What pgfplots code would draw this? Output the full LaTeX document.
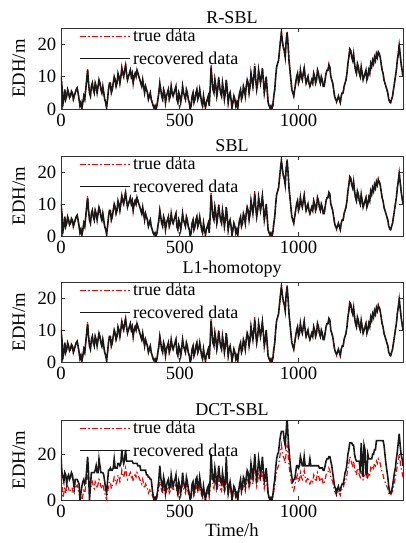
\documentclass[border=0pt]{standalone}
\usepackage{fontspec}
\setmainfont{Liberation Serif}
\usepackage{pgfplots}
\usepackage{pgfplotstable}
\pgfplotsset{compat=1.18}

% t = time (h), tr = true data, rc = recovered (R-SBL / SBL / L1), dc = recovered (DCT-SBL)
\pgfplotstableread{
t tr rc dc
0 11 10 19
4 7 7 12
8 1 1.5 10
12 3 3 8
16 6 6 12
20 3 3 11
24 4 4 7
28 6 6 10
32 5 5 11
36 3.5 3.5 9
40 4 4 10
44 5.5 5.5 12
48 5 5 11
52 3 3 8
56 4 4 5
60 5 5 9
64 6 6 9
68 6.5 6.5 9
72 5 5 8
76 3 3 7
80 1 1 0
84 2 2 3
88 0 0.4 6
92 2 2 8
96 4 4 9
100 3 3 7
104 6 6 8
108 9 9 13
112 12.5 12 19
116 8 8 12
120 5 5 0
124 4 4 6
128 7 7 12
132 8 8 12
136 6 6 12
140 5 5 12
144 8 8 13
148 7 7 15
152 5 5 12
156 7 7 12
160 9 9 18
164 8 8 15
168 6 6 12
172 5 5 12
176 7 7 12
180 5 5 11
184 3 3 8
188 2 2 5
192 0 0.5 3
196 3 3 8
200 6 6 13
204 8 8 13
208 8 8 14
212 5 5 13
216 6 6 13
220 8 8 14
224 10 10 18
228 9 9 14
232 7 7 14
236 8 8 14
240 11 11 16
244 10 10 16
248 8 8 15
252 10 10 16
256 13 12.5 22
260 11 11 18
264 10 10 16
268 12 12 18
272 14 13.5 22
276 11 11 17
280 9 9 17
284 10 10 17
288 11 11 17
292 12 12 17
296 10 10 17
300 11 11 17
304 8 8 16
308 10 10 16
312 11 11 16
316 10 10 16
320 12 12 16
324 11 11 15
328 10 10 15
332 9 9 15
336 8 8 13
340 7 7 13
344 9 9 13
348 7 7 13
352 5 5 13
356 7 7 13
360 6 6 11
364 5 5 11
368 3 3 10
372 4 4 10
376 5 5 9
380 3 3 9
384 2 2 5
388 1 1 2
392 0 0.4 0
396 1 1 1
400 0 0 0
404 1 1 2
408 3 3 5
412 5 5 9
416 8 8 15
420 6 6 10
424 4 4 7
428 3 3 5
432 6 6 10
436 5 5 8
440 2 2 3
444 4 4 6
448 5 5 8
452 6 6 9
456 3 3 5
460 4 4 6
464 7 7 11
468 5 5 8
472 4 4 6
476 5 5 8
480 6 6 9
484 7 7 11
488 3 3 5
492 2 2 3
496 5 5 8
500 4 4 6
504 2 2 3
508 4 4 6
512 7 7 12
516 5 5 8
520 4 4 6
524 3 3 5
528 6 6 10
532 5 5 8
536 3 3 5
540 2 2 3
544 0 0 0
548 1 1 2
552 4 4 7
556 5 5 8
560 2 2 3
564 3 3 5
568 5 5 9
572 6 6 10
576 3 3 5
580 4 4 6
584 6 6 10
588 4 4 7
592 2 2 3
596 1 1 2
600 4 4 6
604 2 2 3
608 0 0.5 0
612 2 2 3
616 3 3 5
620 4 4 6
624 1 1 2
628 6 6 9
632 13.5 12.8 20
636 9 9 13
640 6 6 9
644 5 5 8
648 9 9 14
652 7 7 11
656 4 4 6
660 6 6 9
664 10 9.6 15
668 7 7 11
672 5 5 8
676 4 4 7
680 8 8 12
684 6 6 9
688 3 3 5
692 5 5 8
696 9 9 19
700 6 6 9
704 2 2 3
708 4 4 6
712 5 5 8
716 3 3 5
720 0 0.4 0
724 2 2 3
728 4 4 6
732 3 3 5
736 1 1 2
740 2 2 3
744 0 0.3 0
748 3 3 4
752 5 5 7
756 6 6 9
760 3 3 4
764 4 4 6
768 7 7 10
772 6 6 9
776 4 4 6
780 7 7 10
784 9 9 13
788 8 8 12
792 5 5 7
796 7 7 10
800 11 11 16
804 9 9 13
808 7 7 10
812 10 10 14
816 14 13.2 20
820 9 9 13
824 6 6 9
828 8 8 12
832 12 12 18
836 10 10 15
840 8 8 11
844 10 10 14
848 13 12.5 19
852 9 9 13
856 5 5 8
860 7 7 10
864 10 10 14
868 6 6 9
872 2 2 3
876 1 1 1
880 0 0.4 0
884 1 1 1
888 0 0.2 0
892 1 1 2
896 4 4 6
900 6 6 9
904 10 10 14
908 13 13 18
912 14 14 20
916 15 15 21
920 18 18 25
924 21 21 28
928 24 23.5 30
932 21 21 30
936 19 19 30
940 18 18 26
944 16 16 24
948 21 21 30
952 24 23.6 36
956 20 20 28
960 15 15 22
964 12 12 17
968 9 9 13
972 6 6 10
976 5 5 8
980 4 4 9
984 6 6 9
988 8 8 12
992 10 10 15
996 11 11 15
1000 8 8 14
1004 9 9 15
1008 12 12 19
1012 10 10 17
1016 9 9 15
1020 11 11 15
1024 13 12.6 19
1028 10 10 15
1032 8 8 15
1036 9 9 15
1040 10 10 15
1044 8 8 15
1048 7 7 18
1052 8 8 15
1056 9 9 15
1060 8 8 15
1064 11 11 15
1068 10 10 15
1072 8 8 15
1076 9 9 15
1080 12 12 15
1084 11 11 15
1088 9 9 14
1092 8 8 14
1096 10 10 14
1100 9 9 14
1104 7 7 13
1108 7 7 13
1112 9 9 15
1116 11 11 17
1120 12 12 18
1124 12 12 18
1128 14 13.6 19
1132 13 13 19
1136 10 10 17
1140 9 9 15
1144 8 8 12
1148 6 6 9
1152 4 4 6
1156 3 3 5
1160 2 2.4 3
1164 3 3 5
1168 4 4 6
1172 3 3 4
1176 2 2 4
1180 4 4 6
1184 5 5 7
1188 5 5 7
1192 7 7 9
1196 8 8 12
1200 9 9 13
1204 11 11 16
1208 14 14 20
1212 16 16 22
1216 19 18.5 25
1220 18 18 25
1224 16 16 25
1228 15 15 24
1232 17 17 24
1236 14 14 20
1240 12 12 18
1244 11 11 17
1248 14 14 17
1252 13 13 17
1256 11 11 17
1260 10 10 12
1264 13 13 25
1268 11 11 18
1272 9 9 10
1276 10 10 24
1280 11 11 22
1284 12 12 12
1288 9 9 11
1292 10 10 20
1296 12 12 18
1300 11 11 18
1304 14 14 18
1308 13 13 18
1312 15 15 20
1316 14 14 20
1320 16 16 22
1324 15 15 22
1328 17 17 26
1332 16 16 26
1336 18 17.6 26
1340 17 17 26
1344 16 16 26
1348 14 14 26
1352 12 12 26
1356 11 11 26
1360 9 9 24
1364 8 8 20
1368 7 7 16
1372 6 6 13
1376 5 5 10
1380 3 3 6
1384 2 2.4 3
1388 2 2 3
1392 3 3 4
1396 4 4 6
1400 6 6 9
1404 8 8 12
1408 10 10 14
1412 12 12 18
1416 15 15 21
1420 17 17 25
1424 20 19.6 29
1428 17 17 24
1432 14 14 20
1436 12 12 18
1440 10 10 15
}\edh

\pgfplotsset{
  edhax/.style={
    scale only axis,
    width=256.5pt,
    height=60pt,
    anchor=north west,
    xmin=0, xmax=1440,
    ymin=0,
    xtick={0,500,1000},
    tick align=inside,
    xtick pos=both,
    ytick pos=both,
    major tick length=3pt,
    axis line style={black!80, line width=0.5pt},
    tick style={black!80, line width=0.5pt},
    scaled x ticks=false,
    /pgf/number format/1000 sep={},
    /pgf/number format/assume math mode=true,
    tick label style={font=\fontsize{14}{14}\selectfont},
    label style={font=\fontsize{14}{14}\selectfont},
    title style={font=\fontsize{13.5}{14}\selectfont, at={(axis description cs:0.5,1)}, anchor=south, inner sep=0pt, yshift=-3pt},
    ylabel={EDH/m},
    ylabel style={at={(axis description cs:-0.123,0.5)}, anchor=center},
    legend style={draw=none, fill=none, at={(axis description cs:0.05,1.04)}, anchor=north west,
      font=\fontsize{13.5}{14}\selectfont, row sep=2pt, inner sep=1pt},
    legend cell align=left,
  },
  truest/.style={red, line width=0.9pt, dash pattern=on 4pt off 2pt on 1pt off 2pt},
  recst/.style={black!90, line width=1.2pt},
}
\newcommand{\edhlegend}{%
  \addlegendimage{legend image code/.code={\draw[red, line width=0.8pt, dash pattern=on 4pt off 2pt on 1pt off 2pt] (0cm,0cm) -- (1.3cm,0cm);}}
  \addlegendentry{true data}
  \addlegendimage{legend image code/.code={\draw[black!90, line width=1.0pt] (0cm,0cm) -- (1.3cm,0cm);}}
  \addlegendentry{recovered data}
}

\begin{document}
\begin{tikzpicture}
\useasboundingbox (-45.75pt,0pt) rectangle (258pt,-407.25pt);

\begin{axis}[edhax, at={(0pt,-21pt)}, height=60.75pt, ymax=25, ytick={0,10,20}, title={R-SBL}]
  \addplot[truest, forget plot] table[x=t, y=tr] {\edh};
  \addplot[recst, forget plot] table[x=t, y=rc] {\edh};
  \edhlegend
\end{axis}

\begin{axis}[edhax, at={(0pt,-117pt)}, ymax=25, ytick={0,10,20}, title={SBL}]
  \addplot[truest, forget plot] table[x=t, y=tr] {\edh};
  \addplot[recst, forget plot] table[x=t, y=rc] {\edh};
  \edhlegend
\end{axis}

\begin{axis}[edhax, at={(0pt,-211.5pt)}, ymax=25, ytick={0,10,20}, title={L1-homotopy}]
  \addplot[truest, forget plot] table[x=t, y=tr] {\edh};
  \addplot[recst, forget plot] table[x=t, y=rc] {\edh};
  \edhlegend
\end{axis}

\begin{axis}[edhax, at={(0pt,-315pt)}, ymax=35, ytick={0,20}, title={DCT-SBL},
    xlabel={Time/h}, xlabel style={at={(axis description cs:0.5,-0.375)}, anchor=center}]
  \addplot[truest, forget plot] table[x=t, y=tr] {\edh};
  \addplot[recst, forget plot] table[x=t, y=dc] {\edh};
  \edhlegend
\end{axis}
\end{tikzpicture}
\end{document}
